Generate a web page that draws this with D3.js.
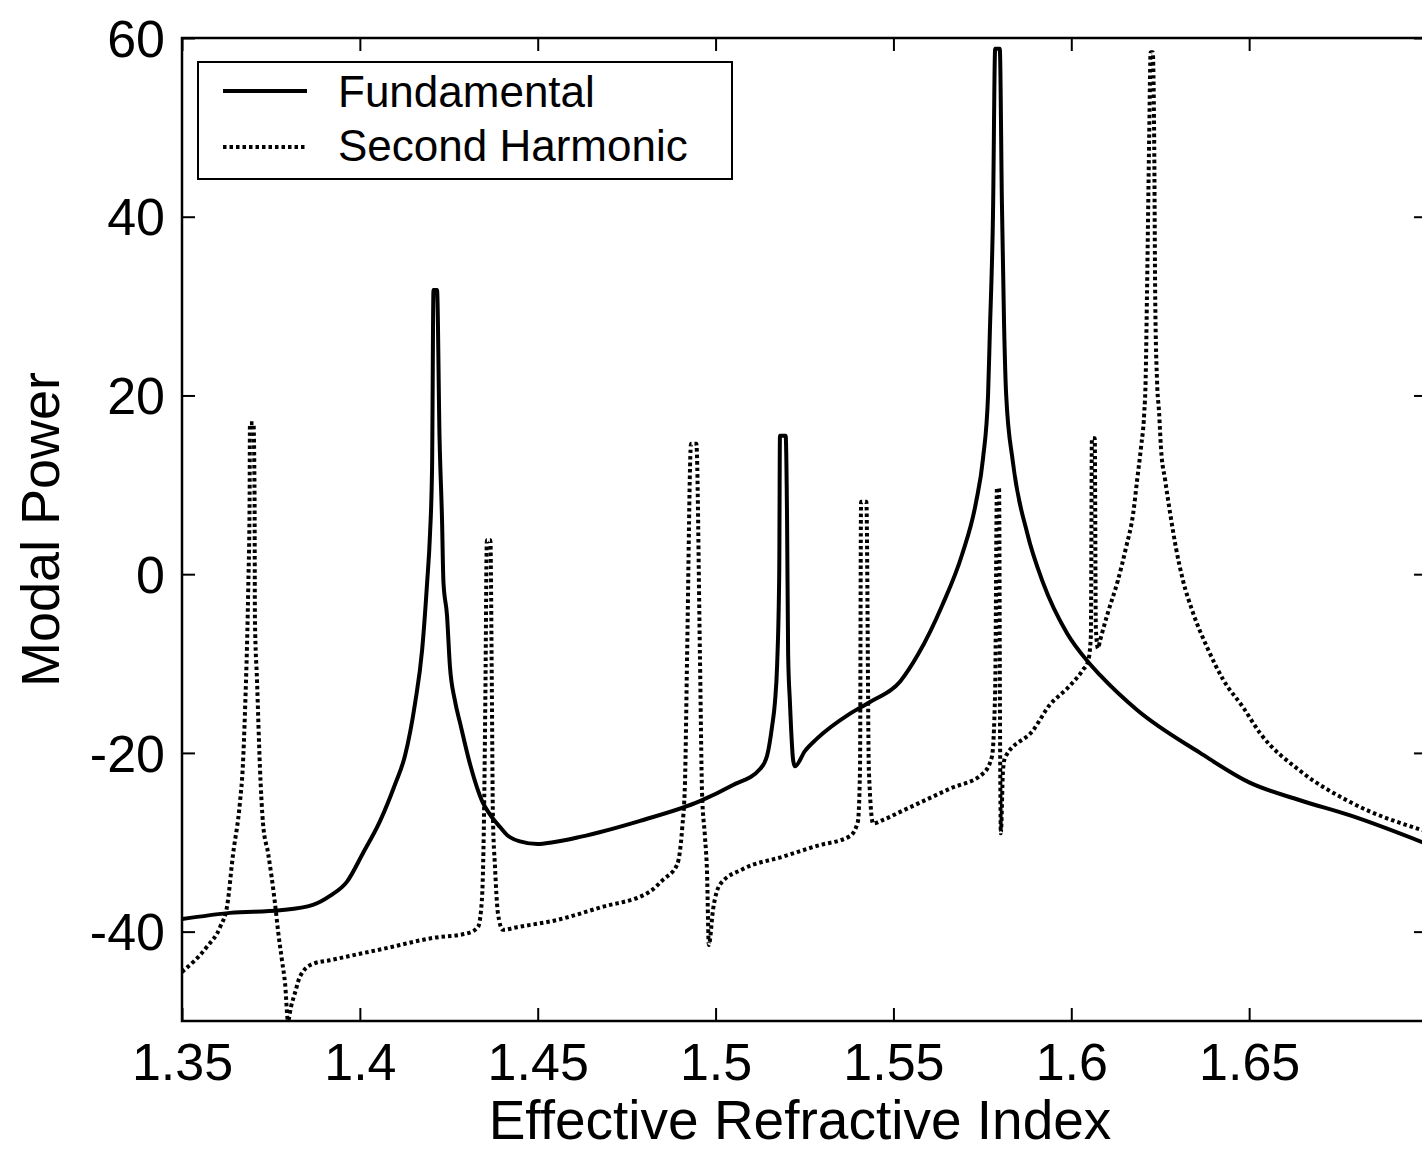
<!DOCTYPE html>
<html><head><meta charset="utf-8">
<script src="https://cdn.jsdelivr.net/npm/d3@7"></script>
<style>body{margin:0;background:#fff;overflow:hidden}svg{display:block}text{font-family:"Liberation Sans",Arial,sans-serif;fill:#000}</style>
</head><body><svg id="c" width="1422" height="1150"></svg>
<script>
const xTicks = [1.35, 1.4, 1.45, 1.5, 1.55, 1.6, 1.65, 1.7];
const xTickLabels = ["1.35", "1.4", "1.45", "1.5", "1.55", "1.6", "1.65", ""];
const yTicks = [-40, -20, 0, 20, 40, 60];
const yTickLabels = ["-40", "-20", "0", "20", "40", "60"];
const seriesNames = ["Fundamental", "Second Harmonic"];

const fundX = [1.35,1.3635,1.3776,1.3868,1.3916,1.3964,1.4009,1.4057,1.4099,1.4127,1.4155,1.4175,1.4189,1.4197,1.4203,1.4207,1.4217,1.4224,1.4231,1.4235,1.4245,1.4253,1.4267,1.4282,1.431,1.4346,1.4366,1.4394,1.4414,1.445,1.45,1.4543,1.4619,1.4788,1.4956,1.5049,1.5125,1.5145,1.5159,1.5167,1.5173,1.5179,1.5181,1.5197,1.5201,1.5204,1.5209,1.5218,1.5223,1.5251,1.5285,1.5378,1.5434,1.5519,1.5569,1.5637,1.5693,1.5732,1.5752,1.5766,1.5771,1.578,1.5786,1.5799,1.5805,1.5811,1.5817,1.5836,1.5876,1.5921,1.5988,1.6047,1.6081,1.6185,1.6362,1.65,1.6643,1.6784,1.70];
const fundY = [-38.6,-37.9,-37.6,-37.0,-36.0,-34.4,-31.2,-27.6,-23.5,-20.3,-14.5,-8.5,-1,4.3,11.9,31.8,31.8,15.3,6.1,-0.9,-4.6,-10.2,-14.1,-16.7,-21.3,-25.6,-26.9,-28.3,-29.2,-29.9,-30.2,-30.0,-29.4,-27.6,-25.4,-23.6,-21.8,-20.3,-17,-14.3,-10.2,0.3,15.5,15.5,6.1,-9,-14.3,-20.8,-21.5,-19.8,-18.4,-15.6,-14.3,-12.0,-9,-3.5,2.2,8,13,20,27,40.5,58.8,58.8,41.5,28,20,12.5,4.6,-1.0,-6.6,-9.8,-11.3,-15.2,-20,-23.3,-25.3,-27,-30.2];

const shX = [1.35,1.357,1.3607,1.3627,1.3643,1.3663,1.3671,1.3677,1.3686,1.369,1.3691,1.3701,1.3704,1.3705,1.3711,1.3719,1.3728,1.3742,1.3761,1.377,1.3781,1.379,1.3798,1.3806,1.3818,1.3832,1.3868,1.3916,1.4009,1.4057,1.4206,1.4301,1.4332,1.4343,1.4349,1.4353,1.4357,1.4367,1.4371,1.4374,1.438,1.4388,1.4402,1.4442,1.4554,1.4675,1.4816,1.4852,1.4892,1.4906,1.4914,1.492,1.4931,1.4946,1.4956,1.4962,1.497,1.4976,1.4981,1.4993,1.5013,1.5077,1.519,1.5285,1.5378,1.54,1.5406,1.5409,1.5424,1.5431,1.5443,1.5471,1.5519,1.5659,1.5752,1.5777,1.5786,1.5791,1.5797,1.58,1.5802,1.5808,1.5814,1.5892,1.594,1.5988,1.6033,1.6047,1.6055,1.6058,1.6066,1.6069,1.6075,1.6081,1.6103,1.6131,1.6154,1.6174,1.6185,1.6196,1.6205,1.6209,1.6213,1.6219,1.6223,1.6229,1.6233,1.6236,1.6241,1.6247,1.6252,1.6264,1.6278,1.6294,1.6314,1.6342,1.6382,1.6427,1.6483,1.6531,1.6643,1.6784,1.70];
const shY = [-44.5,-41.7,-39.5,-37.1,-31.5,-25.5,-21.5,-15.5,-2,8,16.9,16.9,8.5,-5,-12,-21.5,-28,-31.2,-36.7,-39.9,-43.2,-45.9,-50,-48.5,-46.8,-45,-43.6,-43.2,-42.4,-42,-40.7,-40.2,-39.5,-36.5,-27.2,-13,3.8,3.8,-12.5,-27,-32.8,-37.9,-39.8,-39.5,-38.7,-37.3,-35.5,-34.2,-32.5,-28.5,-23.3,-9,14.6,14.6,-9,-24.5,-29.3,-33.4,-41.5,-37.5,-34.7,-33,-31.6,-30.4,-29.3,-27.7,-22,8.1,8.1,-22,-27.9,-27.5,-26.6,-24,-22.3,-20.4,-13,9.6,9.6,-20,-29,-22,-20.5,-17.5,-14.6,-12.8,-10.7,-9.8,-7,15.2,15.2,-6,-8.3,-7.4,-4.3,-0.7,3.0,6.8,10.5,14.2,18,21.7,31.8,48.9,58.4,58.4,48.9,30.7,21.7,18,14.2,10.5,6.8,3.0,-0.7,-4.3,-8.2,-11.8,-14.9,-17.8,-22,-25.5,-28.8];

const svg = d3.select("#c");
const L = 182, R = 1427, T = 38, B = 1021;
const x = d3.scaleLinear().domain([1.35, 1.70]).range([L, R]);
const y = d3.scaleLinear().domain([-50, 60]).range([B, T]);

svg.append("defs").append("clipPath").attr("id","clip")
  .append("rect").attr("x",L).attr("y",T).attr("width",R-L).attr("height",B-T);

const line = d3.line().x(d=>x(d[0])).y(d=>y(d[1])).curve(d3.curveMonotoneX);
const fund = fundX.map((v,i)=>[v,fundY[i]]);
const sh = shX.map((v,i)=>[v,shY[i]]);

const g = svg.append("g").attr("clip-path","url(#clip)");
g.append("path").datum(sh).attr("d",line).attr("fill","none").attr("stroke","#000")
  .attr("stroke-width",4).attr("stroke-dasharray","3.5,3");
g.append("path").datum(fund).attr("d",line).attr("fill","none").attr("stroke","#000")
  .attr("stroke-width",4).attr("stroke-linejoin","miter");

// axes
const tl = 13;
const ax = svg.append("g").attr("transform",`translate(0,${B})`)
  .call(d3.axisBottom(x).tickValues(xTicks).tickSizeInner(-tl).tickSizeOuter(0).tickPadding(22)
    .tickFormat((d,i)=>xTickLabels[i]));
const axT = svg.append("g").attr("transform",`translate(0,${T})`)
  .call(d3.axisTop(x).tickValues(xTicks).tickSizeInner(-tl).tickSizeOuter(0).tickFormat(""));
const ay = svg.append("g").attr("transform",`translate(${L},0)`)
  .call(d3.axisLeft(y).tickValues(yTicks).tickSizeInner(-tl).tickSizeOuter(0).tickPadding(17)
    .tickFormat((d,i)=>yTickLabels[i]));
const ayR = svg.append("g").attr("transform",`translate(${R},0)`)
  .call(d3.axisRight(y).tickValues(yTicks).tickSizeInner(-tl).tickSizeOuter(0).tickFormat(""));
[ax,axT,ay,ayR].forEach(a=>{
  a.selectAll("path").remove();
  a.selectAll("line").attr("stroke","#000").attr("stroke-width",2);
  a.selectAll("text").style("font-size","52px").style("font-family","Liberation Sans, Arial, sans-serif").attr("fill","#000");
});
ay.selectAll("text").attr("dy","0.35em");
svg.append("rect").attr("x",L).attr("y",T).attr("width",R-L).attr("height",B-T)
  .attr("fill","none").attr("stroke","#000").attr("stroke-width",2.5);

// titles
svg.append("text").attr("x",800).attr("y",1139).attr("text-anchor","middle")
  .style("font-size","55px").text("Effective Refractive Index");
svg.append("text").attr("transform",`translate(59,${(T+B)/2}) rotate(-90)`).attr("text-anchor","middle")
  .style("font-size","54px").text("Modal Power");

// legend
const lg = svg.append("g");
lg.append("rect").attr("x",198).attr("y",62).attr("width",534).attr("height",117)
  .attr("fill","#fff").attr("stroke","#000").attr("stroke-width",2);
lg.append("line").attr("x1",223).attr("x2",307).attr("y1",91).attr("y2",91)
  .attr("stroke","#000").attr("stroke-width",4);
lg.append("line").attr("x1",223).attr("x2",307).attr("y1",147).attr("y2",147)
  .attr("stroke","#000").attr("stroke-width",4).attr("stroke-dasharray","3.5,3");
lg.append("text").attr("x",338).attr("y",107).style("font-size","44px").text(seriesNames[0]);
lg.append("text").attr("x",338).attr("y",161).style("font-size","44px").text(seriesNames[1]);
</script></body></html>
